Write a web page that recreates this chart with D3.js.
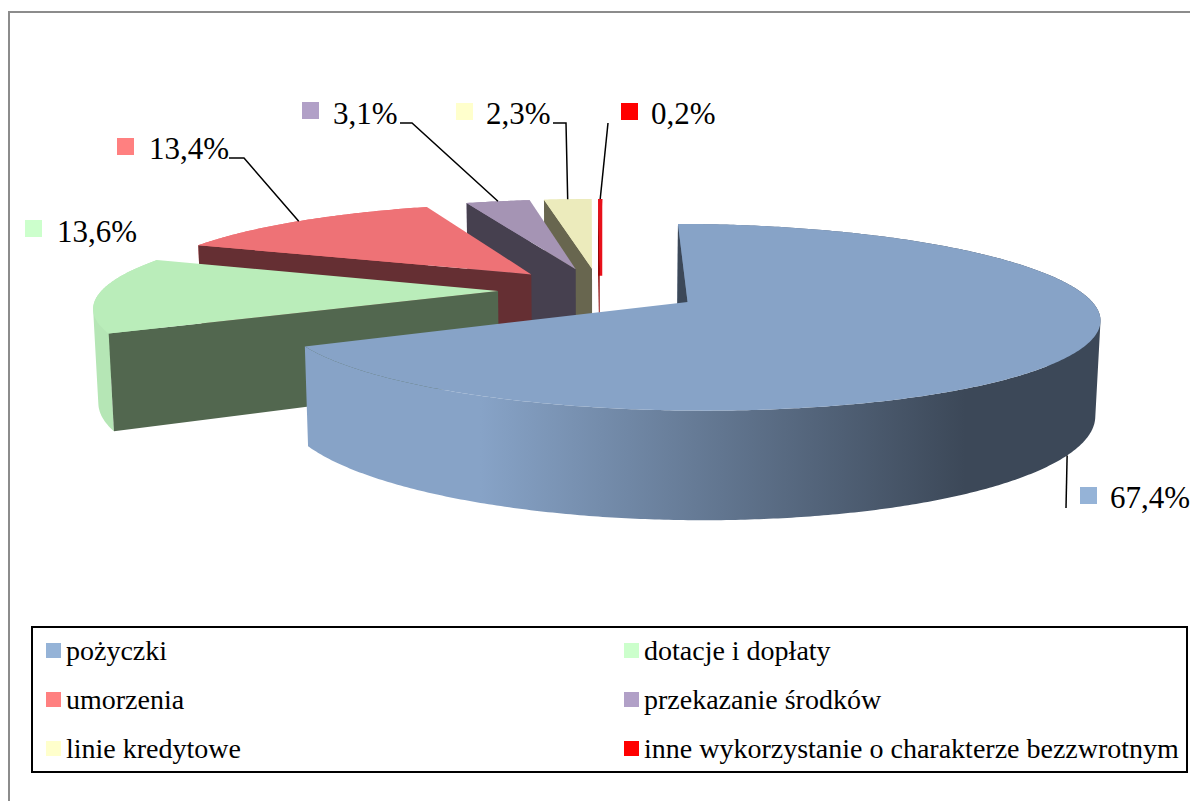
<!DOCTYPE html>
<html>
<head>
<meta charset="utf-8">
<script src="https://cdn.jsdelivr.net/npm/d3@7"></script>
<style>
  body { margin: 0; background: #fff; }
  text { font-family: "Liberation Serif", serif; fill: #000; }
</style>
</head>
<body>
<svg width="1190" height="801"></svg>
<script>
const categories = ['pożyczki', 'dotacje i dopłaty', 'umorzenia', 'przekazanie środków', 'linie kredytowe', 'inne wykorzystanie o charakterze bezzwrotnym']
const values = [67.4, 13.6, 13.4, 3.1, 2.3, 0.2]
const valueLabels = ['67,4%', '13,6%', '13,4%', '3,1%', '2,3%', '0,2%']

const legendColors = ['#95b3d7', '#ccffcc', '#ff8080', '#b1a0c7', '#ffffcc', '#ff0000']
const topColors = ['#87a3c7', '#baedba', '#ee7276', '#a594b4', '#ecebbc', '#e8101a']
const wallColors = ['#3c4858', '#52674f', '#652f33', '#46404f', '#68664f', '#8a0000']
const sideColors = ['url(#blueSide)', '#b5e6b5', '#ee7276', '#a594b4', '#ecebbc', '#e8101a']

// label box position per slice, [swatch x, swatch y, text x, baseline]
const labelPos = [[1080, 487, 1110, 508], [25, 220, 57, 242], [117, 138, 149, 159], [302, 102, 333, 124], [456, 103, 486, 124], [621, 103, 651, 124]]
// leader line start points, the end is computed on the rim
const leaderPts = [[[1066, 508]], [], [[229, 158], [244, 158]], [[400, 123], [412, 123]], [[553, 123], [566, 123]], [[608, 123]]]

const svg = d3.select('svg')

// pie plane -> screen, simple perspective
const cx = 599.5
const cy = 290
const scaleU = 396
const scaleV = 87
const tilt = 0.16
const depth = 92
const shrink = 0.01
const explode = 0.256
const startAngle = 0.008

function project(u, v, z) {
  const w = 1 - tilt * v + shrink * z
  return [cx + scaleU * u / w, cy + (scaleV * v + depth * z) / w]
}

const pie = d3.pie().sort(null).startAngle(startAngle).endAngle(startAngle + 2 * Math.PI * d3.sum(values) / 100)
const arcs = pie(values)

arcs.forEach(a => {
  const mid = (a.startAngle + a.endAngle) / 2
  a.midAngle = mid
  a.ox = explode * Math.sin(mid)
  a.oy = -explode * Math.cos(mid)
})

const rimPoint = (a, t, z) => project(a.ox + Math.sin(t), a.oy - Math.cos(t), z)
const apex = (a, z) => project(a.ox, a.oy, z)
const angles = a => {
  const n = Math.max(2, Math.ceil((a.endAngle - a.startAngle) / 0.01))
  return d3.range(n + 1).map(i => a.startAngle + (a.endAngle - a.startAngle) * i / n)
}

const line = d3.line()

// side band as quads with one winding, so the part past the silhouette does not cancel out
function sidePath(a) {
  const ts = angles(a)
  return d3.pairs(ts).map(([t0, t1]) => {
    const quad = [rimPoint(a, t0, 0), rimPoint(a, t1, 0), rimPoint(a, t1, 1), rimPoint(a, t0, 1)]
    if (d3.polygonArea(quad) < 0) quad.reverse()
    return line(quad) + 'Z'
  }).join('')
}

const defs = svg.append('defs')
const grad = defs.append('linearGradient')
  .attr('id', 'blueSide')
  .attr('gradientUnits', 'userSpaceOnUse')
  .attr('x1', 480).attr('x2', 965).attr('y1', 0).attr('y2', 0)
grad.append('stop').attr('offset', 0).attr('stop-color', '#87a3c7')
grad.append('stop').attr('offset', 1).attr('stop-color', '#3c4858')

// outer frame
svg.append('path')
  .attr('d', 'M9,801V12H1190')
  .attr('fill', 'none')
  .attr('stroke', '#8c8c8c')
  .attr('stroke-width', 2)

// back slices first, blue one goes last
const order = [5, 4, 3, 2, 1, 0]
const slices = svg.selectAll('.slice')
  .data(order.map(i => arcs[i]))
  .enter().append('g')
  .attr('class', 'slice')

slices.append('path')
  .attr('d', sidePath)
  .attr('fill', a => sideColors[a.index])

slices.append('path')
  .attr('d', a => line([rimPoint(a, a.startAngle, 0), apex(a, 0), apex(a, 1), rimPoint(a, a.startAngle, 1)]) + 'Z')
  .attr('fill', a => wallColors[a.index])

slices.append('path')
  .attr('d', a => line([apex(a, 0)].concat(angles(a).map(t => rimPoint(a, t, 0)))) + 'Z')
  .attr('fill', a => topColors[a.index])

// leader lines
svg.selectAll('.leader')
  .data(arcs.filter(a => leaderPts[a.index].length))
  .enter().append('path')
  .attr('class', 'leader')
  .attr('fill', 'none')
  .attr('stroke', '#000')
  .attr('stroke-width', 1.5)
  .attr('d', a => line(leaderPts[a.index].concat([rimPoint(a, a.midAngle, a.index === 0 ? 1 : 0)])))

// value labels
svg.selectAll('.label-swatch')
  .data(arcs)
  .enter().append('rect')
  .attr('class', 'label-swatch')
  .attr('x', a => labelPos[a.index][0])
  .attr('y', a => labelPos[a.index][1])
  .attr('width', 17)
  .attr('height', 17)
  .attr('fill', a => legendColors[a.index])

svg.selectAll('.label')
  .data(arcs)
  .enter().append('text')
  .attr('class', 'label')
  .attr('x', a => labelPos[a.index][2])
  .attr('y', a => labelPos[a.index][3])
  .attr('font-size', 31)
  .text(a => valueLabels[a.index])

// legend
svg.append('rect')
  .attr('x', 32).attr('y', 627)
  .attr('width', 1155).attr('height', 145)
  .attr('fill', '#fff')
  .attr('stroke', '#000')
  .attr('stroke-width', 2)

const legendX = d3.scalePoint().domain([0, 1]).range([46, 624])
const legendY = d3.scalePoint().domain([0, 1, 2]).range([643, 741])

const legend = svg.selectAll('.legend-item')
  .data(categories)
  .enter().append('g')
  .attr('class', 'legend-item')
  .attr('transform', (d, i) => `translate(${legendX(i % 2)},${legendY(Math.floor(i / 2))})`)

legend.append('rect')
  .attr('width', 15)
  .attr('height', 15)
  .attr('fill', (d, i) => legendColors[i])

legend.append('text')
  .attr('x', 20)
  .attr('y', 17)
  .attr('font-size', 28)
  .text(d => d)
</script>
</body>
</html>
